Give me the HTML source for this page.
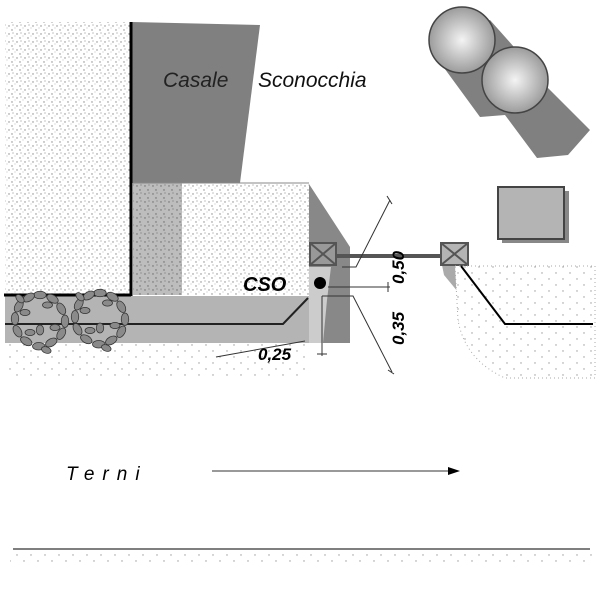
<!DOCTYPE html>
<html><head><meta charset="utf-8"><style>html,body{margin:0;padding:0;background:#fff}svg{display:block}</style></head>
<body>
<svg width="600" height="600" viewBox="0 0 600 600" xmlns="http://www.w3.org/2000/svg">
<defs>
<pattern id="dots" width="8" height="8" patternUnits="userSpaceOnUse">
<rect width="8" height="8" fill="#fff"/>
<circle cx="1" cy="2" r="0.7" fill="#888"/><circle cx="5" cy="1" r="0.6" fill="#999"/><circle cx="4" cy="6" r="0.7" fill="#888"/><circle cx="7" cy="4" r="0.5" fill="#aaa"/>
</pattern>
<pattern id="dotsg" width="8" height="8" patternUnits="userSpaceOnUse">
<rect width="8" height="8" fill="#bdbdbd"/>
<circle cx="1" cy="2" r="0.7" fill="#666"/><circle cx="5" cy="1" r="0.6" fill="#777"/><circle cx="4" cy="6" r="0.7" fill="#666"/>
</pattern>
<pattern id="sparse" width="14" height="12" patternUnits="userSpaceOnUse">
<rect width="14" height="12" fill="#fff"/>
<circle cx="3" cy="3" r="0.7" fill="#999"/><circle cx="10" cy="9" r="0.7" fill="#999"/>
</pattern>
<radialGradient id="cone" cx="0.5" cy="0.5" r="0.6">
<stop offset="0" stop-color="#f4f4f4"/><stop offset="1" stop-color="#8a8a8a"/>
</radialGradient>
<g id="tree">
<g fill="#8a8a8a" stroke="#333" stroke-width="0.6">
<ellipse cx="0" cy="-20" rx="5" ry="3"/><ellipse cx="10" cy="-17" rx="5" ry="3" transform="rotate(30 10 -17)"/>
<ellipse cx="17" cy="-9" rx="5" ry="3" transform="rotate(60 17 -9)"/><ellipse cx="20" cy="1" rx="5" ry="3" transform="rotate(90 20 1)"/>
<ellipse cx="17" cy="11" rx="5" ry="3" transform="rotate(120 17 11)"/><ellipse cx="9" cy="18" rx="5" ry="3" transform="rotate(150 9 18)"/>
<ellipse cx="-1" cy="21" rx="5" ry="3"/><ellipse cx="-11" cy="17" rx="5" ry="3" transform="rotate(30 -11 17)"/>
<ellipse cx="-18" cy="9" rx="5" ry="3" transform="rotate(60 -18 9)"/><ellipse cx="-20" cy="-1" rx="5" ry="3" transform="rotate(90 -20 -1)"/>
<ellipse cx="-17" cy="-11" rx="5" ry="3" transform="rotate(120 -17 -11)"/><ellipse cx="-9" cy="-18" rx="5" ry="3" transform="rotate(150 -9 -18)"/>
<ellipse cx="6" cy="-12" rx="4" ry="2.5"/><ellipse cx="-8" cy="10" rx="4" ry="2.5"/><ellipse cx="12" cy="6" rx="4" ry="2.5"/>
<ellipse cx="-12" cy="-6" rx="4" ry="2.5"/><ellipse cx="0" cy="8" rx="3" ry="4"/>
<ellipse cx="5" cy="24" rx="4" ry="2.5" transform="rotate(20 5 24)"/><ellipse cx="-16" cy="-17" rx="4" ry="2.5" transform="rotate(45 -16 -17)"/>
</g></g>
</defs>

<rect x="5" y="22" width="126" height="273" fill="url(#dots)"/>
<polygon points="132,22 260,25 240,183 132,183" fill="#808080"/>
<rect x="133" y="183" width="176" height="112" fill="url(#dots)"/>
<rect x="133" y="183" width="49" height="112" fill="url(#dotsg)"/>
<line x1="133" y1="183" x2="309" y2="183" stroke="#888" stroke-width="1"/>
<polygon points="309,184 350,247 350,343 309,343" fill="#888"/>
<polygon points="309,267 331,267 327,300 323,343 309,343" fill="#ccc"/>
<rect x="5" y="296" width="304" height="47" fill="#b4b4b4"/>
<polyline points="5,324 283,324 308,298" fill="none" stroke="#222" stroke-width="2"/>
<rect x="5" y="344" width="300" height="36" fill="url(#sparse)"/>
<line x1="131" y1="22" x2="131" y2="296" stroke="#000" stroke-width="3"/>
<line x1="4" y1="295" x2="131" y2="295" stroke="#000" stroke-width="3"/>
<use href="#tree" transform="translate(40,320) scale(1.25)"/>
<use href="#tree" transform="translate(100,318) scale(1.25)"/>

<text x="163" y="87" font-family="Liberation Sans, sans-serif" font-style="italic" font-size="21" fill="#222">Casale</text>
<text x="258" y="87" font-family="Liberation Sans, sans-serif" font-style="italic" font-size="21" fill="#111">Sconocchia</text>

<line x1="336" y1="256" x2="441" y2="256" stroke="#555" stroke-width="4"/>
<g stroke="#555" stroke-width="2" fill="#999">
<rect x="310" y="243" width="26" height="22"/>
<line x1="310" y1="243" x2="336" y2="265"/><line x1="336" y1="243" x2="310" y2="265"/>
</g>
<polygon points="442,265 468,265 490,285 478,292 458,292 444,275" fill="#aaa"/>
<g stroke="#555" stroke-width="2" fill="#b4b4b4">
<rect x="441" y="243" width="27" height="22"/>
<line x1="441" y1="243" x2="468" y2="265"/><line x1="468" y1="243" x2="441" y2="265"/>
</g>
<circle cx="320" cy="283" r="6" fill="#000"/>
<text x="243" y="291" font-family="Liberation Sans, sans-serif" font-style="italic" font-weight="bold" font-size="20" fill="#000">CSO</text>

<g stroke="#333" stroke-width="1" fill="none">
<polyline points="390,200 356,267 342,267"/>
<line x1="387" y1="196" x2="392" y2="204"/>
<line x1="328" y1="287" x2="390" y2="287"/>
<line x1="388" y1="282" x2="388" y2="292"/>
<polyline points="322,296 353,296 392,372"/>
<line x1="388" y1="370" x2="394" y2="374"/>
<line x1="322" y1="296" x2="322" y2="356"/>
<line x1="317" y1="354" x2="327" y2="354"/>
<line x1="305" y1="341" x2="216" y2="357"/>
</g>
<text transform="translate(404,284) rotate(-90)" font-family="Liberation Sans, sans-serif" font-style="italic" font-weight="bold" font-size="17" fill="#000">0,50</text>
<text transform="translate(404,345) rotate(-90)" font-family="Liberation Sans, sans-serif" font-style="italic" font-weight="bold" font-size="17" fill="#000">0,35</text>
<text x="258" y="360" font-family="Liberation Sans, sans-serif" font-style="italic" font-weight="bold" font-size="17" fill="#000">0,25</text>

<polygon points="431,50 480,117 505,115 537,158 568,155 590,130 545,85 530,65 490,20" fill="#808080"/>
<circle cx="462" cy="40" r="33" fill="url(#cone)" stroke="#444" stroke-width="1.5"/>
<circle cx="515" cy="80" r="33" fill="url(#cone)" stroke="#444" stroke-width="1.5"/>
<rect x="502" y="191" width="67" height="52" fill="#888"/>
<rect x="498" y="187" width="66" height="52" fill="#b4b4b4" stroke="#444" stroke-width="2"/>

<path d="M455,266 L595,266 L595,378 L505,378 Q465,360 458,320 Z" fill="url(#sparse)" stroke="#aaa" stroke-width="1" stroke-dasharray="1 3"/>
<polyline points="461,266 505,324 593,324" fill="none" stroke="#000" stroke-width="2"/>

<text x="66" y="480" font-family="Liberation Sans, sans-serif" font-style="italic" font-size="19" letter-spacing="8" fill="#000">Terni</text>
<line x1="212" y1="471" x2="450" y2="471" stroke="#333" stroke-width="1"/>
<polygon points="460,471 448,467 448,475" fill="#000"/>

<line x1="13" y1="549" x2="590" y2="549" stroke="#555" stroke-width="1.5"/>
<rect x="10" y="552" width="585" height="14" fill="url(#sparse)"/>
</svg>
</body></html>
